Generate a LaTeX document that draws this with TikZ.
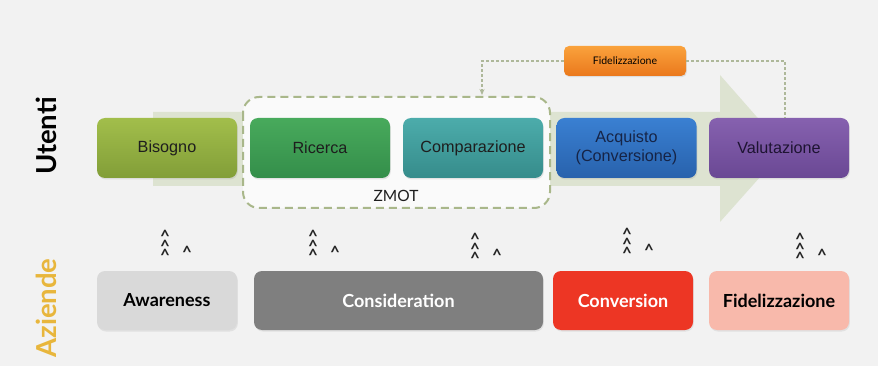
\documentclass[tikz,border=0pt]{standalone}
\usepackage{fontspec}
\setmainfont{Liberation Sans}
\newfontfamily\gill{Lato}
\usetikzlibrary{shadows,arrows.meta}
\definecolor{bgc}{HTML}{F2F2F2}
\definecolor{arrowc}{HTML}{DDE3D1}
\definecolor{zmotc}{HTML}{A9B78A}
\definecolor{dotc}{HTML}{AEB89A}
\definecolor{utxt}{HTML}{1E1E1E}
\definecolor{azc}{HTML}{E8B63C}
\newcommand\mycaretstack{\textasciicircum\\[-3.6pt]\textasciicircum\\[-3.6pt]\textasciicircum}
\begin{document}
\begin{tikzpicture}[x=1pt,y=-1pt,
  box/.style={rounded corners=8pt, minimum width=140pt, minimum height=60pt, inner sep=0pt, align=center,
    font=\fontsize{16.2}{19.5}\selectfont, text=utxt,
    drop shadow={opacity=0.18, shadow xshift=0.8pt, shadow yshift=-1.5pt}},
  abox/.style={rounded corners=8pt, minimum width=140pt, minimum height=59pt, inner sep=0pt, align=center,
    font=\gill\bfseries\fontsize{18}{20}\selectfont,
    drop shadow={opacity=0.15, shadow xshift=0.8pt, shadow yshift=-1.5pt}},
  side/.style={rotate=90, font=\gill\bfseries\fontsize{27.5}{28}\selectfont},
  caretc/.style={inner sep=0pt, align=center, font=\gill\bfseries\fontsize{17}{8}\selectfont, text=black!85},
  dotline/.style={draw=dotc, line width=1.2pt, dash pattern=on 3pt off 2pt},
  zmotbox/.style={draw=zmotc, fill=white!60!bgc, line width=2pt, dash pattern=on 8pt off 5pt, rounded corners=16pt}
]
\fill[bgc] (0,0) rectangle (878,366);
\useasboundingbox (0,0) rectangle (878,366);

% big arrow
\fill[arrowc] (153,112) -- (720,112) -- (720,75) -- (785,149) -- (720,222) -- (720,186) -- (153,186) -- cycle;

% ZMOT frame
\draw[zmotbox] (243,97) rectangle (550,208);
\node[font=\gill\fontsize{15.5}{15.5}\selectfont, text=utxt] (zlab) at (396,196) {ZMOT};

% upper row
\node[box, top color={rgb,255:red,162;green,190;blue,75}, bottom color={rgb,255:red,130;green,158;blue,56}] (bis) at (167,148) {Bisogno};
\node[box, top color={rgb,255:red,72;green,170;blue,92}, bottom color={rgb,255:red,52;green,142;blue,74}] (ric) at (320,148) {Ricerca};
\node[box, top color={rgb,255:red,76;green,172;blue,171}, bottom color={rgb,255:red,54;green,140;blue,139}] (com) at (473,148) {Comparazione};
\node[box, top color={rgb,255:red,58;green,128;blue,210}, bottom color={rgb,255:red,40;green,98;blue,172}, text={rgb,255:red,22;green,36;blue,70}] (acq) at (626.5,148) {Acquisto\\(Conversione)};
\node[box, top color={rgb,255:red,134;green,97;blue,175}, bottom color={rgb,255:red,106;green,72;blue,148}, text={rgb,255:red,30;green,20;blue,50}] (val) at (779,148) {Valutazione};

% Fidelizzazione (top)
\node[rounded corners=5pt, minimum width=122pt, minimum height=30pt, inner sep=0pt,
  top color={rgb,255:red,250;green,162;blue,60}, bottom color={rgb,255:red,234;green,120;blue,28},
  font=\gill\fontsize{10.5}{11}\selectfont, text=black,
  drop shadow={opacity=0.18, shadow xshift=0.8pt, shadow yshift=-1.2pt}] (fid) at (625,61) {Fidelizzazione};
\coordinate (zin) at (482,95);
\coordinate (vtop) at (785,118);
\draw[dotline, -{Stealth[length=6pt,width=5pt,fill=dotc]}] (fid.west) -| (zin);
\draw[dotline] (fid.east) -| (vtop);

% side labels
\node[side, text=black] (ut) at (46,136) {Utenti};
\node[side, text=azc] (az) at (46,308) {Aziende};

% bottom row
\node[abox, fill={rgb,255:red,217;green,217;blue,217}, text=black] (awa) at (167,300.5) {Awareness};
\node[abox, minimum width=289pt, fill={rgb,255:red,127;green,127;blue,127}, text=white] (con) at (398.5,300.5) {Consideration};
\node[abox, fill={rgb,255:red,237;green,54;blue,36}, text=white] (cnv) at (623,300.5) {Conversion};
\node[abox, fill={rgb,255:red,248;green,185;blue,171}, text=black] (fdl) at (779,300.5) {Fidelizzazione};

% carets
\foreach \cx/\cy [count=\i] in {165/232, 313/232, 475/235, 627/230, 800/235} {
  \node[caretc, anchor=north] (cs\i) at (\cx,\cy-2) {\mycaretstack};
  \node[caretc, anchor=north] (cd\i) at (\cx+22,\cy+14) {\textasciicircum};
}
\end{tikzpicture}
\end{document}
